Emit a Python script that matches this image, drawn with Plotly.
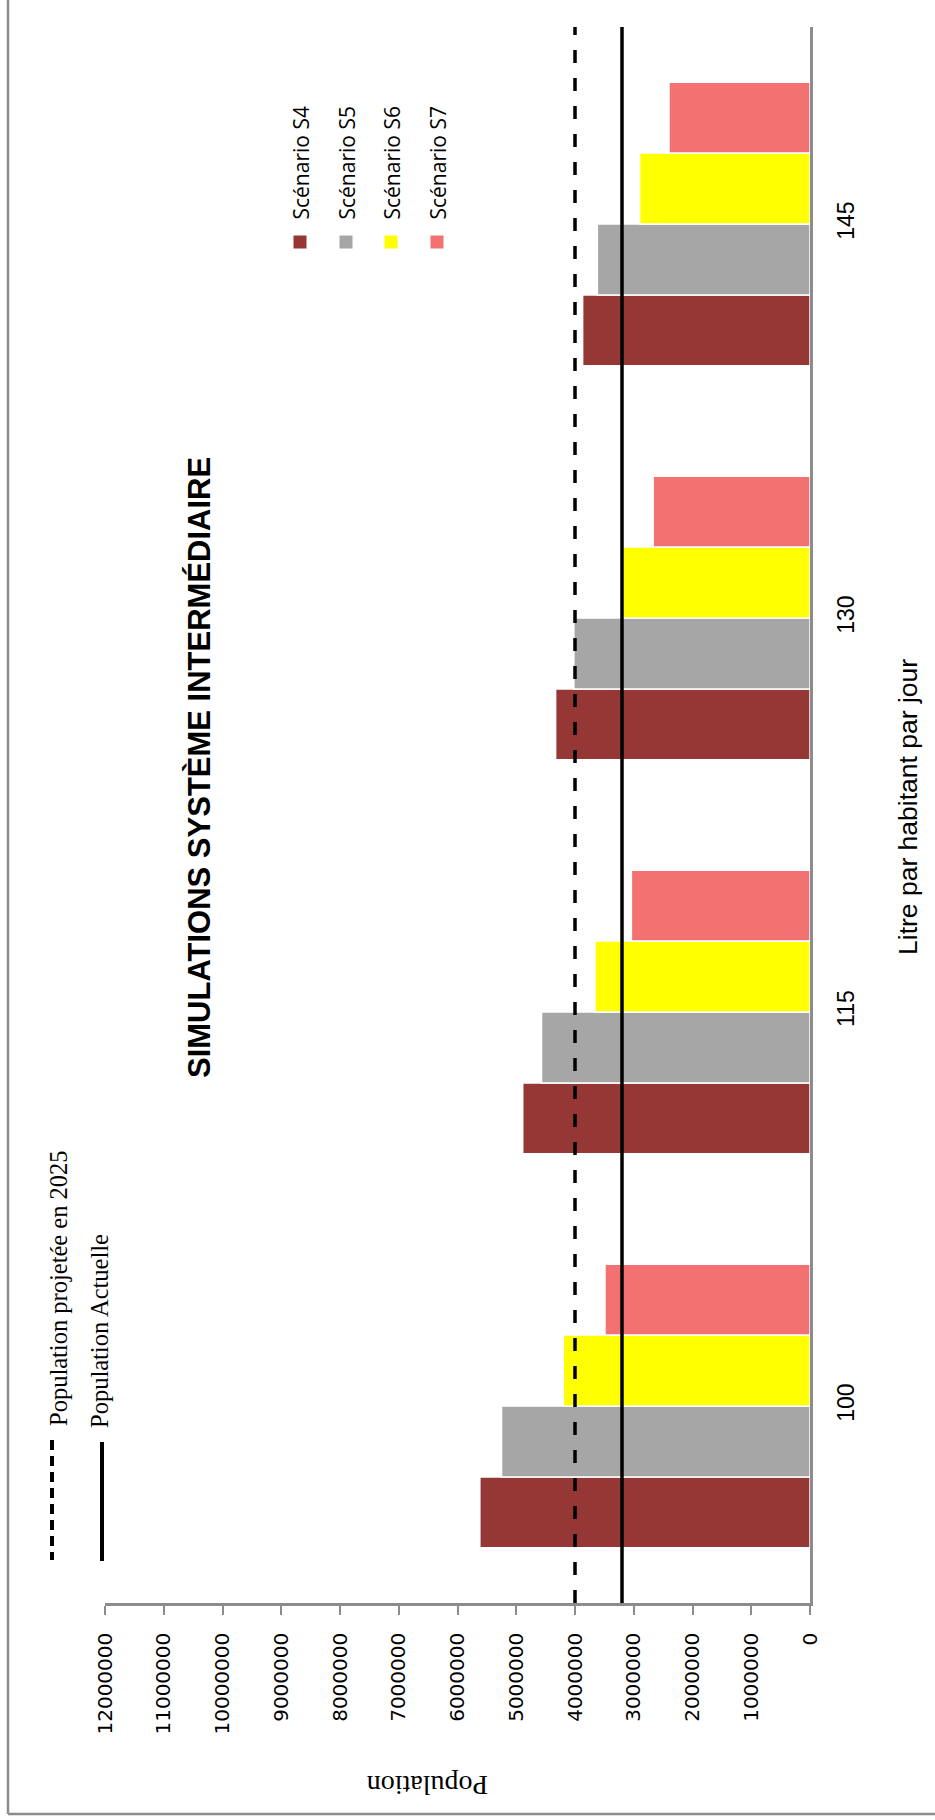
import plotly.graph_objects as go

# ---- data ----
categories = ["100", "115", "130", "145"]
series_names = ["Scénario S4", "Scénario S5", "Scénario S6", "Scénario S7"]
s4 = [5620000, 4890000, 4330000, 3870000]
s5 = [5250000, 4570000, 4020000, 3620000]
s6 = [4200000, 3660000, 3180000, 2900000]
s7 = [3490000, 3040000, 2670000, 2400000]
pop_2025 = 4000000
pop_actuelle = 3200000
x_ticks = [0, 1000000, 2000000, 3000000, 4000000, 5000000, 6000000,
           7000000, 8000000, 9000000, 10000000, 11000000, 12000000]
line_labels = ["Population projetée en 2025", "Population Actuelle"]
title_text = "SIMULATIONS SYSTÈME INTERMÉDIAIRE"
x_title = "Population"
y_title = "Litre par habitant par jour"

colors = ["#953735", "#A6A6A6", "#FFFF00", "#F37171"]
series = [s4, s5, s6, s7]

W, H = 935, 1820
L, R, T, B = 105, 810, 27, 1603


def px(x):
    return (x - L) / (R - L)


def py(y):
    return (B - y) / (B - T)


fig = go.Figure()
for name, vals, col in zip(series_names, series, colors):
    fig.add_trace(go.Bar(
        y=categories, x=vals, name=name, orientation="h",
        marker=dict(color=col, line=dict(color="white", width=1.5)),
        showlegend=False,
    ))

shapes = []
# reference lines
shapes.append(dict(type="line", xref="x", yref="paper", x0=pop_2025, x1=pop_2025,
                   y0=0, y1=1, line=dict(color="black", width=3.5, dash="13px,15px")))
shapes.append(dict(type="line", xref="x", yref="paper", x0=pop_actuelle, x1=pop_actuelle,
                   y0=0, y1=1, line=dict(color="black", width=3.5)))

# outer frame (left and bottom)
shapes.append(dict(type="line", xref="paper", yref="paper", x0=px(8), x1=px(8),
                   y0=py(0), y1=py(1814), line=dict(color="#8C8C8C", width=2.5)))
shapes.append(dict(type="line", xref="paper", yref="paper", x0=px(8), x1=px(935),
                   y0=py(1814), y1=py(1814), line=dict(color="#8C8C8C", width=2.5)))

# line legend
shapes.append(dict(type="line", xref="paper", yref="paper", x0=px(52), x1=px(52),
                   y0=py(1440), y1=py(1560), line=dict(color="black", width=4, dash="10px,6px")))
shapes.append(dict(type="line", xref="paper", yref="paper", x0=px(102), x1=px(102),
                   y0=py(1442), y1=py(1561), line=dict(color="black", width=4)))

annotations = []
annotations.append(dict(xref="paper", yref="paper", x=px(58), y=py(1428),
                        xanchor="center", yanchor="bottom", textangle=-90, showarrow=False,
                        text=line_labels[0],
                        font=dict(family="Liberation Serif", size=24.5, color="black")))
annotations.append(dict(xref="paper", yref="paper", x=px(99), y=py(1430),
                        xanchor="center", yanchor="bottom", textangle=-90, showarrow=False,
                        text=line_labels[1],
                        font=dict(family="Liberation Serif", size=24.5, color="black")))

# scenario legend
leg_x = [300, 346, 391, 437]
for name, col, lx in zip(series_names, colors, leg_x):
    shapes.append(dict(type="rect", xref="paper", yref="paper",
                       x0=px(lx - 7), x1=px(lx + 7), y0=py(249), y1=py(235),
                       fillcolor=col, line=dict(color="white", width=1)))
    annotations.append(dict(xref="paper", yref="paper", x=px(lx + 1), y=py(222),
                            xanchor="center", yanchor="bottom", textangle=-90, showarrow=False,
                            text=name, font=dict(family="Open Sans", size=21, color="black")))

# title
annotations.append(dict(xref="paper", yref="paper", x=px(199), y=py(768),
                        xanchor="center", yanchor="middle", textangle=-90, showarrow=False,
                        text="<b>" + title_text + "</b>",
                        font=dict(family="Liberation Sans", size=31, color="black")))
# axis titles
annotations.append(dict(xref="paper", yref="paper", x=px(908), y=py(807),
                        xanchor="center", yanchor="middle", textangle=-90, showarrow=False,
                        text=y_title,
                        font=dict(family="Liberation Sans", size=26.5, color="black")))
annotations.append(dict(xref="paper", yref="paper", x=px(428), y=py(1786),
                        xanchor="center", yanchor="middle", textangle=180, showarrow=False,
                        text=x_title,
                        font=dict(family="Liberation Serif", size=28, color="black")))

fig.update_layout(
    width=W, height=H,
    margin=dict(l=L, r=W - R, t=T, b=H - B, pad=0),
    paper_bgcolor="white", plot_bgcolor="white",
    barmode="group", bargap=0.28, bargroupgap=0,
    shapes=shapes, annotations=annotations,
    showlegend=False,
    xaxis=dict(range=[12000000, 0], tickvals=x_ticks, tickformat="d",
               automargin=False,
               showgrid=False, zeroline=False,
               showline=True, linecolor="#8C8C8C", linewidth=2.5,
               ticks="outside", ticklen=9, tickwidth=2, tickcolor="#8C8C8C",
               tickangle=-90, ticklabelstandoff=10,
               tickfont=dict(family="DejaVu Sans", size=20, color="black")),
    yaxis=dict(type="category", categoryorder="array", categoryarray=categories,
               automargin=False,
               side="right", showgrid=False, zeroline=False,
               showline=True, linecolor="#8C8C8C", linewidth=2.5,
               ticks="", tickangle=-90, ticklabelstandoff=14,
               tickfont=dict(family="Liberation Sans", size=23, color="black")),
)

fig.write_html("out.html",
               config={"displayModeBar": False},
               post_script="document.body.style.margin='0';document.body.style.padding='0';")
